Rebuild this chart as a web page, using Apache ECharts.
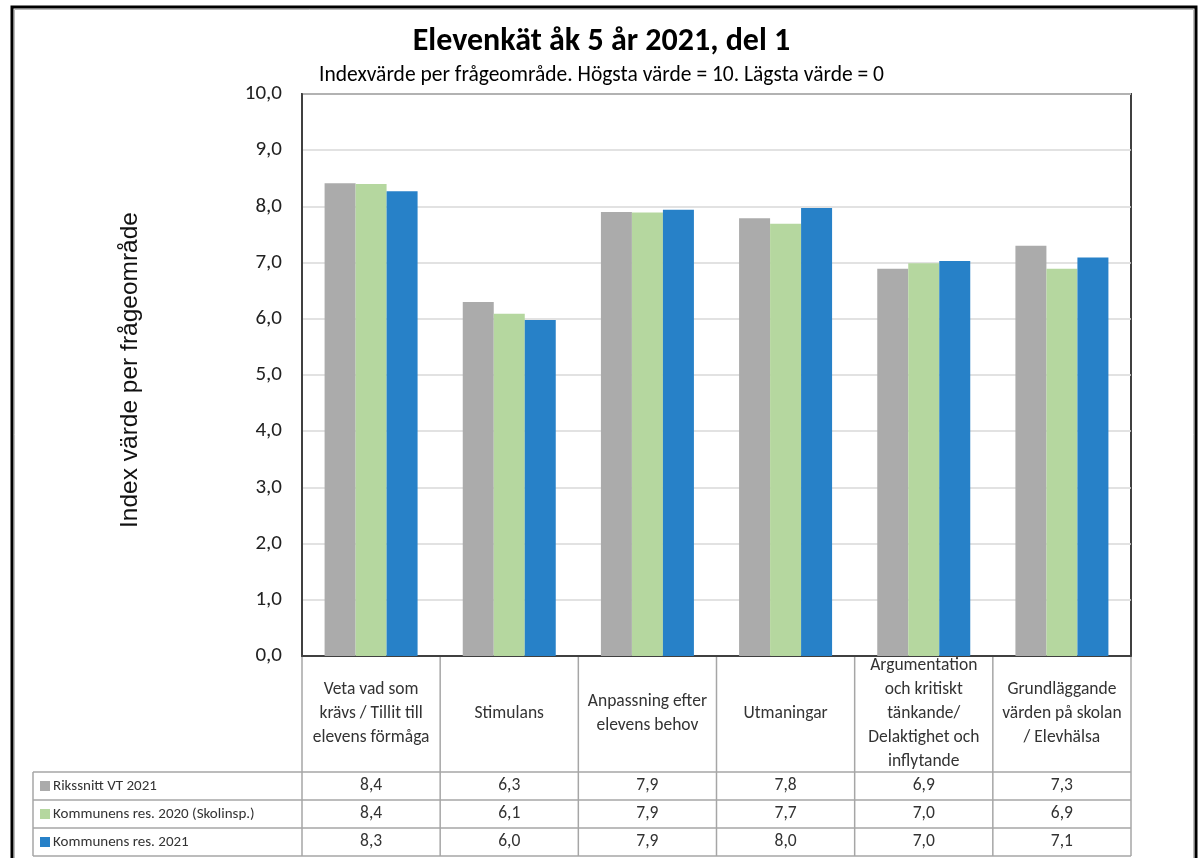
<!DOCTYPE html>
<html>
<head>
<meta charset="utf-8">
<script src="https://cdn.jsdelivr.net/npm/echarts@6/dist/echarts.min.js"></script>
<style>
html,body{margin:0;padding:0;background:#fff;}
#chart{width:1203px;height:858px;}
</style>
</head>
<body>
<div id="chart"></div>
<script>
const titleText = 'Elevenkät åk 5 år 2021, del 1';
const subtitleText = 'Indexvärde per frågeområde. Högsta värde = 10. Lägsta värde = 0';
const yAxisTitle = 'Index värde per frågeområde';
const categories = [
  'Veta vad som\nkrävs / Tillit till\nelevens förmåga',
  'Stimulans',
  'Anpassning efter\nelevens behov',
  'Utmaningar',
  'Argumentation\noch kritiskt\ntänkande/\nDelaktighet och\ninflytande',
  'Grundläggande\nvärden på skolan\n/ Elevhälsa'
];
const seriesNames = ['Rikssnitt VT 2021', 'Kommunens res. 2020 (Skolinsp.)', 'Kommunens res. 2021'];
const rikssnitt = [8.41, 6.30, 7.90, 7.79, 6.89, 7.30];
const kommun2020 = [8.40, 6.09, 7.89, 7.69, 6.99, 6.89];
const kommun2021 = [8.27, 5.98, 7.94, 7.97, 7.03, 7.09];
const seriesColors = ['#ababab', '#b5d79f', '#2781c8'];

const FONT = "Carlito, 'Liberation Sans Narrow', Lato, sans-serif";
const G = {left: 302, right: 1131, top: 94, bottom: 656};
const tableLeft = 33;
const headerBottom = 772;
const rowH = 28;

const fmt = v => v.toFixed(1).replace('.', ',');
const allSeries = [rikssnitt, kommun2020, kommun2021];

const chart = echarts.init(document.getElementById('chart'), null, {renderer: 'canvas'});

const graphics = [];
// outer frame
graphics.push({type: 'rect', shape: {x: 12, y: 7, width: 1184, height: 900},
  style: {fill: 'none', stroke: '#000', lineWidth: 3}, silent: true, z: 100});
graphics.push({type: 'rect', shape: {x: 14.5, y: 9.5, width: 1179, height: 900},
  style: {fill: 'none', stroke: '#bbb', lineWidth: 1}, silent: true, z: 100});
// table lines
const lineStyle = {stroke: '#a6a6a6', lineWidth: 1.5};
const tableBottom = headerBottom + rowH * seriesNames.length;
const cw = (G.right - G.left) / categories.length;
for (let i = 0; i <= categories.length; i++) {
  const x = G.left + cw * i;
  graphics.push({type: 'line', shape: {x1: x, y1: G.bottom, x2: x, y2: tableBottom}, style: lineStyle, silent: true});
}
graphics.push({type: 'line', shape: {x1: tableLeft, y1: headerBottom, x2: tableLeft, y2: tableBottom}, style: lineStyle, silent: true});
for (let r = 0; r <= seriesNames.length; r++) {
  const y = headerBottom + rowH * r;
  graphics.push({type: 'line', shape: {x1: tableLeft, y1: y, x2: G.right, y2: y}, style: lineStyle, silent: true});
}
// legend rows + values
seriesNames.forEach((name, r) => {
  const cy = headerBottom + rowH * r + rowH / 2;
  graphics.push({type: 'rect', shape: {x: 40, y: cy - 5, width: 10, height: 10}, style: {fill: seriesColors[r]}, silent: true});
  graphics.push({type: 'text', x: 53, y: cy, style: {text: name, font: '15px ' + FONT, fill: '#333', verticalAlign: 'middle', align: 'left'}, silent: true});
  allSeries[r].forEach((v, c) => {
    graphics.push({type: 'text', x: G.left + cw * (c + 0.5), y: cy,
      style: {text: fmt(v), font: '17.5px ' + FONT, fill: '#333', verticalAlign: 'middle', align: 'center'}, silent: true});
  });
});
// y axis title
graphics.push({type: 'text', x: 130, y: 370, rotation: Math.PI / 2,
  style: {text: yAxisTitle, font: "24.5px 'Liberation Sans', Arial, sans-serif", fill: '#111', align: 'center', verticalAlign: 'middle'}, silent: true});

const option = {
  animation: false,
  backgroundColor: '#fff',
  title: [
    {text: titleText, left: 'center', top: 21,
      textStyle: {fontFamily: FONT, fontWeight: 'bold', fontSize: 32, color: '#000'}},
    {text: subtitleText, left: 'center', top: 60,
      textStyle: {fontFamily: FONT, fontWeight: 'normal', fontSize: 21.5, color: '#000'}}
  ],
  grid: {left: G.left, right: 1203 - G.right, top: G.top, bottom: 858 - G.bottom,
    show: true, borderColor: '#404040', borderWidth: 2, containLabel: false},
  xAxis: {
    type: 'category', data: categories,
    axisLine: {show: true, lineStyle: {color: '#404040', width: 2}},
    axisTick: {show: false},
    axisLabel: {interval: 0, margin: 58, verticalAlign: 'middle', lineHeight: 24,
      fontFamily: FONT, fontSize: 17.5, color: '#333', align: 'center'}
  },
  yAxis: {
    type: 'value', min: 0, max: 10, interval: 1,
    axisLine: {show: true, lineStyle: {color: '#404040', width: 2}},
    axisTick: {show: false},
    splitLine: {lineStyle: {color: '#d9d9d9', width: 1.5}},
    axisLabel: {formatter: v => fmt(v), fontFamily: FONT, fontSize: 21, color: '#222', margin: 20}
  },
  series: allSeries.map((d, i) => ({
    type: 'bar', name: seriesNames[i], data: d, barWidth: 31, barGap: '0%',
    itemStyle: {color: seriesColors[i]}
  })),
  graphic: graphics
};
chart.setOption(option);
</script>
</body>
</html>
